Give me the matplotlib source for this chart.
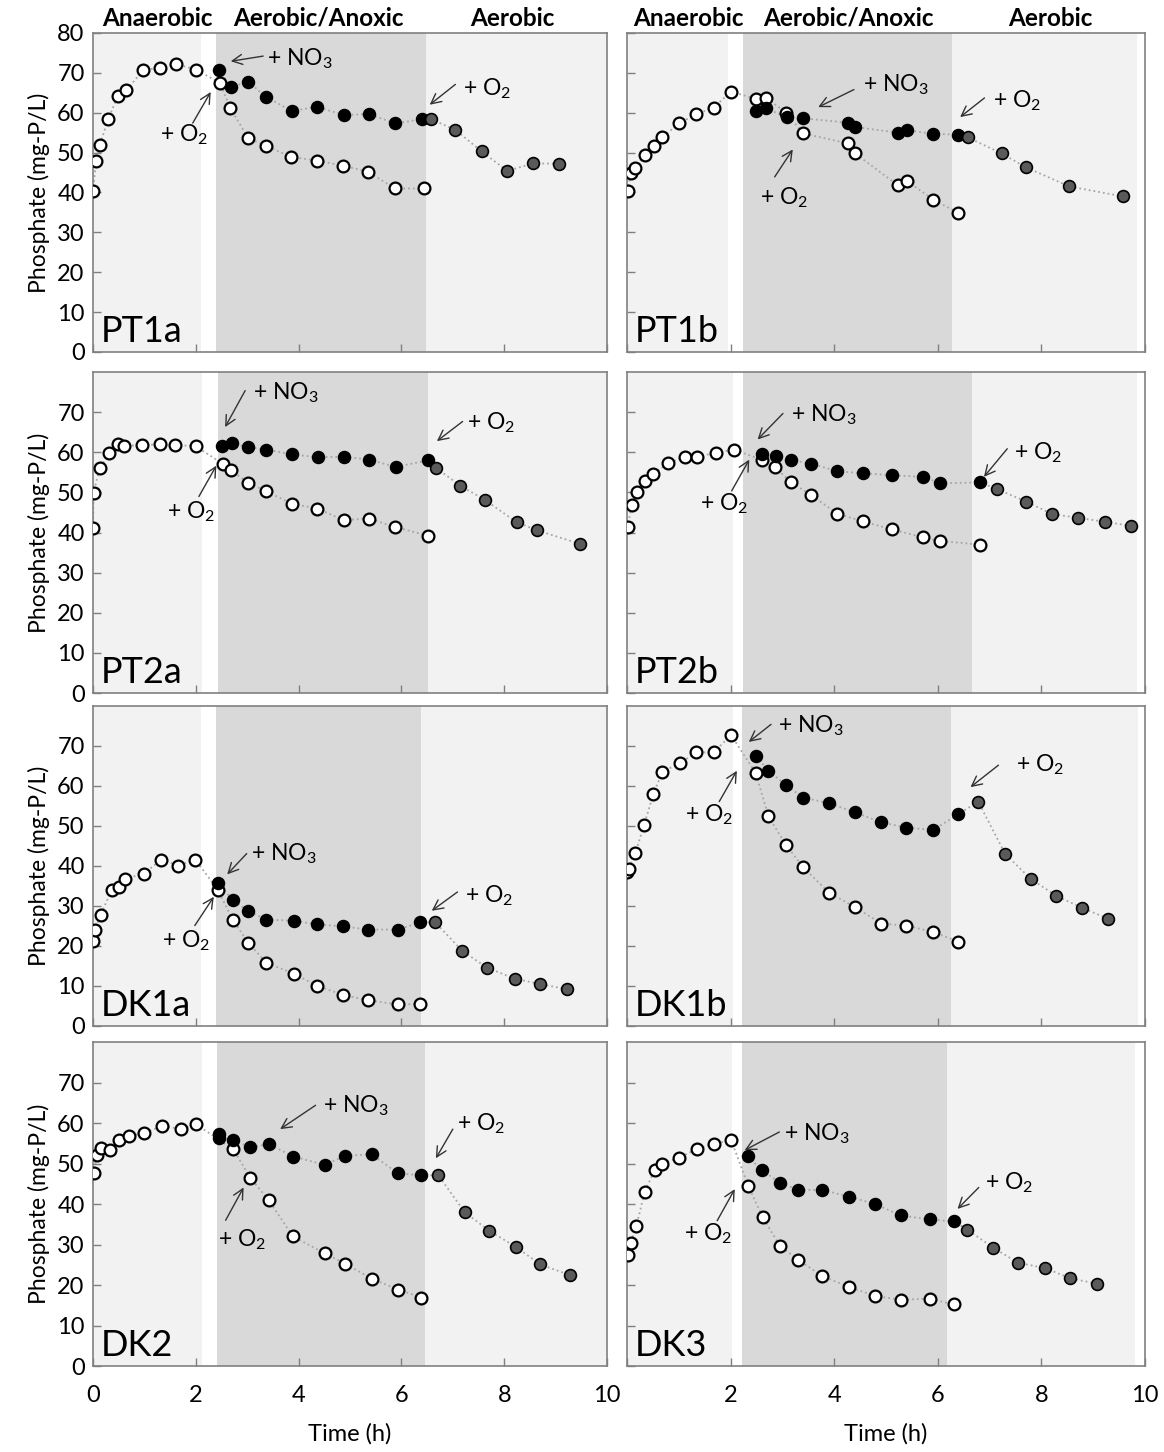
import matplotlib.pyplot as plt

plt.rcParams['font.family'] = ['Lato', 'DejaVu Sans']
plt.rcParams['mathtext.fontset'] = 'custom'
plt.rcParams['mathtext.rm'] = 'Lato'
plt.rcParams['mathtext.it'] = 'Lato:italic'

# panel names, in reading order
panels = ['PT1a', 'PT1b', 'PT2a', 'PT2b', 'DK1a', 'DK1b', 'DK2', 'DK3']

# phase times (h): end of anaerobic, start of aerobic/anoxic, end of aerobic/anoxic, end of aerobic
phases = {
    'PT1a': [2.1, 2.4, 6.48, 10.0],
    'PT1b': [1.95, 2.24, 6.28, 9.84],
    'PT2a': [2.12, 2.43, 6.51, 10.0],
    'PT2b': [2.04, 2.23, 6.65, 9.84],
    'DK1a': [2.11, 2.4, 6.38, 10.0],
    'DK1b': [2.05, 2.22, 6.25, 9.86],
    'DK2': [2.12, 2.41, 6.45, 10.0],
    'DK3': [2.02, 2.21, 6.18, 9.8],
}

# (time h, phosphate mg-P/L)
pt1a_anaerobic = [(0.0, 40.3), (0.06, 47.8), (0.13, 51.8), (0.30, 58.5), (0.48, 64.1), (0.65, 65.6),
                  (0.98, 70.8), (1.30, 71.2), (1.62, 72.2), (2.0, 70.8)]
pt1a_aerobic = [(2.47, 67.5), (2.67, 61.2), (3.02, 53.6), (3.36, 51.7), (3.86, 48.9), (4.35, 48.0),
                (4.87, 46.7), (5.35, 45.2), (5.87, 41.0), (6.43, 41.0)]
pt1a_anoxic = [(2.46, 70.7), (2.68, 66.4), (3.02, 67.8), (3.36, 64.0), (3.87, 60.4), (4.35, 61.5),
               (4.88, 59.4), (5.36, 59.7), (5.88, 57.3), (6.41, 58.4)]
pt1a_final = [(6.57, 58.4), (7.05, 55.7), (7.56, 50.3), (8.06, 45.4), (8.56, 47.3), (9.06, 47.2)]

pt1b_anaerobic = [(0.01, 40.4), (0.07, 44.8), (0.16, 46.1), (0.34, 49.4), (0.53, 51.6), (0.68, 53.8),
                  (1.01, 57.4), (1.34, 59.6), (1.67, 61.3), (2.01, 65.3)]
pt1b_aerobic = [(2.48, 63.5), (2.68, 63.8), (3.07, 60.0), (3.40, 54.8), (4.26, 52.3), (4.40, 49.8),
                (5.23, 41.8), (5.41, 42.8), (5.91, 38.2), (6.39, 34.9)]
pt1b_anoxic = [(2.49, 60.4), (2.68, 61.1), (3.08, 58.9), (3.40, 58.6), (4.26, 57.5), (4.41, 56.4),
               (5.23, 55.0), (5.41, 55.6), (5.91, 54.7), (6.39, 54.5)]
pt1b_final = [(6.58, 53.8), (7.23, 49.8), (7.70, 46.3), (8.54, 41.5), (9.58, 39.0)]

pt2a_anaerobic = [(0.0, 41.1), (0.01, 49.9), (0.13, 56.1), (0.32, 59.8), (0.48, 62.0), (0.61, 61.6),
                  (0.95, 61.8), (1.30, 62.0), (1.60, 61.9), (2.0, 61.5)]
pt2a_aerobic = [(2.52, 57.2), (2.69, 55.5), (3.02, 52.4), (3.37, 50.3), (3.87, 47.2), (4.36, 46.0),
                (4.88, 43.1), (5.36, 43.5), (5.88, 41.4), (6.52, 39.2)]
pt2a_anoxic = [(2.51, 61.7), (2.70, 62.3), (3.02, 61.3), (3.37, 60.7), (3.87, 59.5), (4.37, 58.8),
               (4.89, 58.9), (5.36, 58.2), (5.89, 56.4), (6.52, 58.0)]
pt2a_final = [(6.68, 56.1), (7.14, 51.7), (7.62, 48.2), (8.24, 42.6), (8.63, 40.6), (9.47, 37.2)]

pt2b_anaerobic = [(0.01, 41.3), (0.09, 46.9), (0.19, 50.0), (0.34, 52.9), (0.50, 54.5), (0.80, 57.4),
                  (1.12, 58.8), (1.35, 58.9), (1.72, 59.9), (2.06, 60.7)]
pt2b_aerobic = [(2.61, 58.1), (2.85, 56.4), (3.16, 52.6), (3.55, 49.4), (4.06, 44.7), (4.55, 42.8),
                (5.11, 40.8), (5.72, 38.8), (6.04, 37.9), (6.82, 37.0)]
pt2b_anoxic = [(2.61, 59.5), (2.87, 59.1), (3.16, 58.1), (3.55, 57.2), (4.06, 55.3), (4.55, 54.8),
               (5.11, 54.3), (5.72, 53.9), (6.04, 52.3), (6.82, 52.5)]
pt2b_final = [(7.15, 50.8), (7.71, 47.7), (8.21, 44.6), (8.70, 43.7), (9.22, 42.7), (9.72, 41.7)]

dk1a_anaerobic = [(0.0, 21.2), (0.04, 24.1), (0.15, 27.8), (0.36, 33.9), (0.50, 34.8), (0.63, 36.8),
                  (0.99, 38.1), (1.33, 41.6), (1.66, 40.1), (1.99, 41.6)]
dk1a_aerobic = [(2.43, 34.0), (2.72, 26.5), (3.02, 20.8), (3.37, 15.8), (3.91, 13.1), (4.36, 10.0),
                (4.86, 7.8), (5.35, 6.4), (5.93, 5.4), (6.37, 5.5)]
dk1a_anoxic = [(2.43, 35.7), (2.72, 31.5), (3.02, 28.7), (3.37, 26.6), (3.91, 26.3), (4.36, 25.4),
               (4.86, 24.9), (5.35, 24.1), (5.93, 24.1), (6.37, 25.9)]
dk1a_final = [(6.66, 25.9), (7.18, 18.8), (7.66, 14.6), (8.21, 11.8), (8.69, 10.5), (9.22, 9.2)]

dk1b_anaerobic = [(0.0, 38.4), (0.03, 39.3), (0.16, 43.2), (0.33, 50.3), (0.51, 58.1), (0.68, 63.5),
                  (1.03, 65.8), (1.34, 68.4), (1.67, 68.4), (2.01, 72.7)]
dk1b_aerobic = [(2.48, 63.3), (2.73, 52.4), (3.07, 45.2), (3.40, 39.7), (3.90, 33.3), (4.40, 29.7),
                (4.91, 25.6), (5.39, 25.1), (5.91, 23.5), (6.39, 21.1)]
dk1b_anoxic = [(2.49, 67.4), (2.73, 63.8), (3.07, 60.2), (3.40, 57.1), (3.90, 55.7), (4.40, 53.4),
               (4.91, 50.9), (5.39, 49.6), (5.91, 49.0), (6.39, 52.9)]
dk1b_final = [(6.78, 56.1), (7.30, 43.0), (7.79, 36.8), (8.29, 32.5), (8.79, 29.5), (9.29, 26.8)]

dk2_anaerobic = [(0.01, 47.6), (0.07, 52.0), (0.16, 53.8), (0.33, 53.3), (0.51, 55.8), (0.71, 56.8),
                 (1.00, 57.6), (1.34, 59.2), (1.72, 58.6), (2.01, 59.7)]
dk2_aerobic = [(2.73, 53.5), (3.06, 46.5), (3.42, 40.9), (3.89, 32.0), (4.51, 27.8), (4.90, 25.3),
               (5.42, 21.6), (5.93, 18.9), (6.39, 16.9)]
dk2_anoxic = [(2.45, 57.2), (2.45, 56.2), (2.73, 55.8), (3.06, 54.0), (3.42, 54.8), (3.90, 51.7),
              (4.51, 49.7), (4.90, 51.9), (5.42, 52.3), (5.93, 47.6), (6.39, 47.1)]
dk2_final = [(6.72, 47.1), (7.23, 38.0), (7.71, 33.4), (8.23, 29.4), (8.70, 25.1), (9.27, 22.5)]

dk3_anaerobic = [(0.01, 27.3), (0.07, 30.3), (0.18, 34.5), (0.34, 43.1), (0.54, 48.5), (0.68, 49.9),
                 (1.01, 51.5), (1.35, 53.6), (1.67, 54.9), (2.01, 55.8)]
dk3_aerobic = [(2.34, 44.5), (2.62, 36.7), (2.95, 29.7), (3.30, 26.3), (3.77, 22.2), (4.29, 19.5),
               (4.79, 17.3), (5.28, 16.4), (5.85, 16.6), (6.31, 15.2)]
dk3_anoxic = [(2.33, 51.8), (2.61, 48.3), (2.95, 45.3), (3.30, 43.5), (3.77, 43.5), (4.29, 41.8),
              (4.79, 40.0), (5.28, 37.2), (5.85, 36.2), (6.31, 35.7)]
dk3_final = [(6.57, 33.7), (7.07, 29.2), (7.55, 25.5), (8.07, 24.2), (8.55, 21.7), (9.08, 20.3)]

series = {
    'PT1a': (pt1a_anaerobic, pt1a_aerobic, pt1a_anoxic, pt1a_final),
    'PT1b': (pt1b_anaerobic, pt1b_aerobic, pt1b_anoxic, pt1b_final),
    'PT2a': (pt2a_anaerobic, pt2a_aerobic, pt2a_anoxic, pt2a_final),
    'PT2b': (pt2b_anaerobic, pt2b_aerobic, pt2b_anoxic, pt2b_final),
    'DK1a': (dk1a_anaerobic, dk1a_aerobic, dk1a_anoxic, dk1a_final),
    'DK1b': (dk1b_anaerobic, dk1b_aerobic, dk1b_anoxic, dk1b_final),
    'DK2': (dk2_anaerobic, dk2_aerobic, dk2_anoxic, dk2_final),
    'DK3': (dk3_anaerobic, dk3_aerobic, dk3_anoxic, dk3_final),
}

# annotation placement: (label text left x, y), (arrow tail), (arrow tip)
notes = {
    'PT1a': [('no3', (3.39, 73.6), (3.31, 74.2), (2.68, 72.9)),
             ('o2', (1.30, 54.5), (1.94, 57.4), (2.29, 65.2)),
             ('o2', (7.19, 66.1), (7.05, 67.1), (6.55, 62.0))],
    'PT1b': [('no3', (4.55, 67.1), (4.38, 65.8), (3.69, 61.4)),
             ('o2', (2.56, 38.8), (2.85, 43.9), (3.20, 50.8)),
             ('o2', (7.06, 62.9), (6.90, 63.7), (6.43, 58.9))],
    'PT2a': [('no3', (3.12, 74.8), (2.96, 75.4), (2.57, 66.3)),
             ('o2', (1.43, 45.3), (2.06, 49.0), (2.40, 56.7)),
             ('o2', (7.27, 67.3), (7.19, 67.7), (6.69, 62.8))],
    'PT2b': [('no3', (3.16, 69.4), (3.01, 69.7), (2.52, 63.2)),
             ('o2', (1.40, 47.1), (2.02, 50.4), (2.36, 58.2)),
             ('o2', (7.48, 59.9), (7.34, 60.9), (6.89, 53.9))],
    'DK1a': [('no3', (3.07, 43.1), (2.99, 43.1), (2.61, 37.9)),
             ('o2', (1.34, 21.4), (1.98, 25.1), (2.35, 32.3)),
             ('o2', (7.24, 32.5), (7.09, 33.5), (6.59, 28.8))],
    'DK1b': [('no3', (2.92, 75.1), (2.78, 75.4), (2.35, 71.0)),
             ('o2', (1.12, 52.8), (1.78, 56.1), (2.12, 63.8)),
             ('o2', (7.51, 65.2), (7.17, 65.2), (6.63, 59.7))],
    'DK2': [('no3', (4.48, 64.3), (4.33, 64.4), (3.64, 58.5)),
            ('o2', (2.43, 31.3), (2.58, 36.0), (2.93, 44.1)),
            ('o2', (7.08, 59.9), (7.00, 58.5), (6.67, 51.3))],
    'DK3': [('no3', (3.03, 57.3), (2.94, 57.8), (2.27, 53.3)),
            ('o2', (1.10, 32.6), (1.74, 35.9), (2.08, 43.7)),
            ('o2', (6.91, 45.4), (6.79, 44.1), (6.38, 38.8))],
}
labels = {'no3': '+ NO$_3$', 'o2': '+ O$_2$'}

phase_names = ['Anaerobic', 'Aerobic/Anoxic', 'Aerobic']
phase_label_x = [[1.25, 4.38, 8.15], [1.18, 4.27, 8.17]]

fig = plt.figure(figsize=(11.64, 14.52), dpi=100)
lefts = [0.0799, 0.5387]
widths = [0.4416, 0.445]
bottoms = [0.7576, 0.5227, 0.2934, 0.0592]
heights = [0.2197, 0.221, 0.2204, 0.2231]

LIGHT = '#f2f2f2'
DARK = '#d9d9d9'
LINE = dict(ls=':', color='#a6a6a6', lw=1.3, zorder=2)
MS = 8.5

for i, name in enumerate(panels):
    row, col = divmod(i, 2)
    ax = fig.add_axes([lefts[col], bottoms[row], widths[col], heights[row]])
    ax.set_xlim(0, 10)
    ax.set_ylim(0, 80)

    p = phases[name]
    ax.axvspan(-0.1, p[0], color=LIGHT, lw=0, zorder=0)
    ax.axvspan(p[1], p[2], color=DARK, lw=0, zorder=0)
    ax.axvspan(p[2], p[3], color=LIGHT, lw=0, zorder=0)

    ana, aer, anox, fin = series[name]
    first = ana + aer
    second = anox + fin
    ax.plot([t for t, v in first], [v for t, v in first], **LINE)
    ax.plot([t for t, v in second], [v for t, v in second], **LINE)
    ax.plot([t for t, v in first], [v for t, v in first], 'o', ls='none', ms=MS,
            mfc='white', mec='black', mew=1.6, zorder=3)
    ax.plot([t for t, v in anox], [v for t, v in anox], 'o', ls='none', ms=MS,
            mfc='black', mec='black', mew=1.2, zorder=4)
    ax.plot([t for t, v in fin], [v for t, v in fin], 'o', ls='none', ms=MS,
            mfc='#5a5a5a', mec='black', mew=1.2, zorder=5)

    for kind, txt, tail, tip in notes[name]:
        ax.annotate('', xy=tip, xytext=tail,
                    arrowprops=dict(arrowstyle='->', color='#333333', lw=1.0,
                                    shrinkA=0, shrinkB=0, mutation_scale=18), zorder=6)
        ax.text(txt[0], txt[1], labels[kind], fontsize=16.5, ha='left', va='center', zorder=6)

    ax.text(0.015, 0.012, name, transform=ax.transAxes, fontsize=26,
            ha='left', va='bottom', zorder=7)

    for s in ax.spines.values():
        s.set_color('#808080')
        s.set_linewidth(1.2)
    ax.tick_params(direction='in', color='#808080', length=6, width=1,
                   labelsize=17, pad=6)
    ax.set_xticks([0, 2, 4, 6, 8, 10])
    if row == 0:
        ax.set_yticks(range(0, 81, 10))
    else:
        ax.set_yticks(range(0, 71, 10))
    if col == 1:
        ax.set_yticklabels([])
    else:
        ax.set_ylabel('Phosphate (mg-P/L)', fontsize=16.5, labelpad=5)
    if row < 3:
        ax.set_xticklabels([])
    else:
        ax.tick_params(axis='x', pad=14)
        if col == 1:
            ax.set_xticklabels(['', '2', '4', '6', '8', '10'])
        ax.set_xlabel('Time (h)', fontsize=17, labelpad=12)
    if row == 0:
        for nm, xx in zip(phase_names, phase_label_x[col]):
            ax.text(xx, 80.8, nm, fontsize=17.5, fontweight='bold', ha='center', va='bottom')

fig.savefig('out.png', dpi=100)
